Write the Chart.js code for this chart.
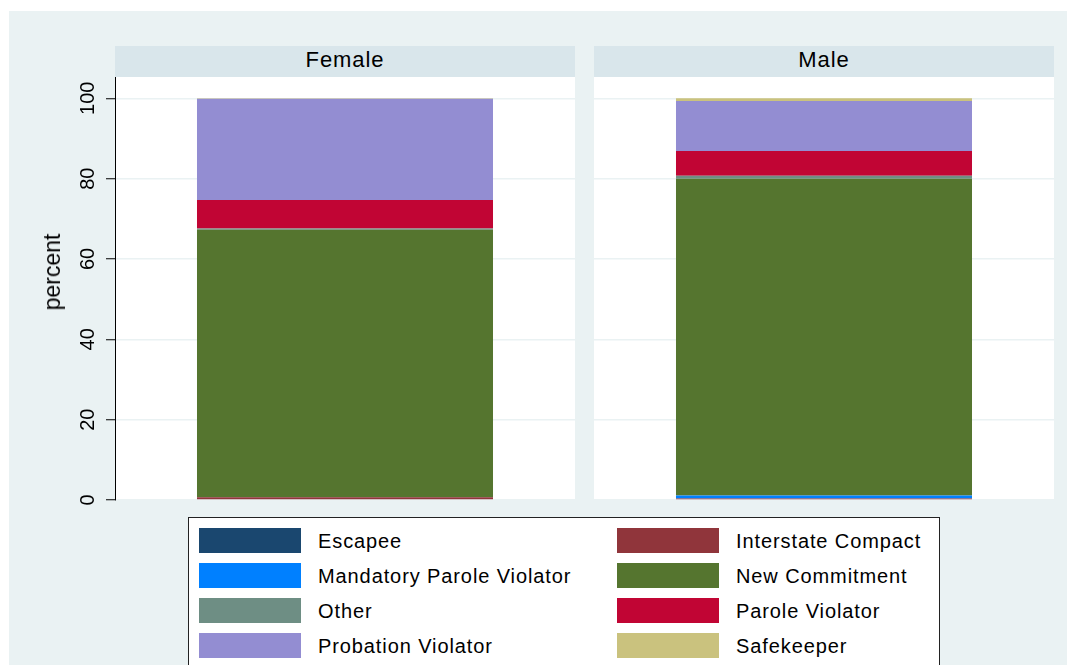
<!DOCTYPE html>
<html>
<head>
<meta charset="utf-8">
<script src="https://cdn.jsdelivr.net/npm/chart.js@4.4.1/dist/chart.umd.min.js"></script>
<style>
  body { margin: 0; background: #fff; font-family: 'Liberation Sans', Arial, sans-serif; }
  #page { position: relative; width: 1077px; height: 665px; overflow: hidden; }
  #bg { position: absolute; left: 9px; top: 11px; width: 1058px; height: 660px; background: #eaf2f3; }
  .strip { position: absolute; top: 46px; height: 31px; width: 460px; background: #d9e6eb;
           font-size: 22px; letter-spacing: 0.9px; line-height: 28px; text-align: center; color: #000; }
  canvas { position: absolute; }
  #ytitle { position: absolute; left: 52px; top: 272px; font-size: 23px; color: #000; white-space: nowrap;
            transform: translate(-50%, -50%) rotate(-90deg); line-height: 26px; }
  #legend { position: absolute; left: 188px; top: 517px; width: 750px; height: 160px;
            background: #fff; border: 1px solid #222; }
  .item { position: absolute; height: 25px; }
  .swatch { position: absolute; left: 0; top: 0; width: 102px; height: 25px; }
  .label { position: absolute; left: 119px; top: 1px; line-height: 25px; font-size: 20px;
           letter-spacing: 0.9px; white-space: nowrap; color: #000; }
</style>
</head>
<body>
<div id="page">
  <div id="bg"></div>
  <div class="strip" style="left:115px">Female</div>
  <div class="strip" style="left:594px">Male</div>
  <canvas id="left" width="566" height="435" style="left:9px; top:77px"></canvas>
  <canvas id="right" width="460" height="435" style="left:594px; top:77px"></canvas>
  <div id="ytitle">percent</div>
  <div id="legend"></div>
</div>
<script>
// data (percent of each group)
const categories = ['Escapee', 'Interstate Compact', 'Mandatory Parole Violator', 'New Commitment',
                    'Other', 'Parole Violator', 'Probation Violator', 'Safekeeper'];
const femaleValues = [0.2, 0.5, 0.0, 66.6, 0.3, 7.1, 25.2, 0.1];
const maleValues   = [0.0, 0.4, 0.7, 78.9, 0.7, 6.2, 12.4, 0.7];
const yTicks = [0, 20, 40, 60, 80, 100];
const colors = ['#1a476f', '#90353b', '#0080ff', '#55752f', '#6e8e84', '#c10534', '#938dd2', '#cac27e'];

const plotBg = {
  id: 'plotBg',
  beforeDraw(chart) {
    const a = chart.chartArea, ctx = chart.ctx;
    ctx.save();
    ctx.fillStyle = '#fff';
    ctx.fillRect(a.left, a.top, a.right - a.left, a.bottom - a.top);
    ctx.restore();
  }
};

function makeChart(id, group, values, withAxis) {
  const datasets = categories.map((c, i) => ({
    label: c,
    data: [values[i]],
    backgroundColor: colors[i],
    borderWidth: 0,
    barPercentage: 0.6435,
    categoryPercentage: 1
  }));
  return new Chart(document.getElementById(id), {
    type: 'bar',
    data: { labels: [group], datasets },
    plugins: [plotBg],
    options: {
      responsive: false,
      animation: false,
      devicePixelRatio: 1,
      layout: { padding: { top: 0, bottom: 12, left: 0, right: 0 } },
      plugins: { legend: { display: false }, tooltip: { enabled: false } },
      scales: {
        x: { stacked: true, display: false },
        y: {
          stacked: true,
          min: 0,
          max: 105.3,
          afterBuildTicks: s => { s.ticks = yTicks.map(v => ({ value: v })); },
          afterFit: s => {
            s.width = withAxis ? 106 : 0;
            s.paddingTop = 0;
            s.paddingBottom = 0;
          },
          border: { display: withAxis, color: '#000', width: 1 },
          grid: { color: '#eaf2f3', lineWidth: 1.5, drawTicks: withAxis, tickLength: 9, tickColor: '#000', tickWidth: 1 },
          ticks: {
            display: withAxis,
            minRotation: 90,
            maxRotation: 90,
            crossAlign: 'center',
            padding: 1,
            color: '#000',
            font: { family: "'Liberation Sans', Arial, sans-serif", size: 20 }
          }
        }
      }
    }
  });
}

makeChart('left', 'Female', femaleValues, true);
makeChart('right', 'Male', maleValues, false);

// legend, two columns, row by row
const legend = document.getElementById('legend');
categories.forEach((c, i) => {
  const col = i % 2, row = Math.floor(i / 2);
  const el = document.createElement('div');
  el.className = 'item';
  el.style.left = (col === 0 ? 10 : 428) + 'px';
  el.style.top = (10 + row * 35) + 'px';
  el.innerHTML = `<div class="swatch" style="background:${colors[i]}"></div><div class="label">${c}</div>`;
  legend.appendChild(el);
});
</script>
</body>
</html>
